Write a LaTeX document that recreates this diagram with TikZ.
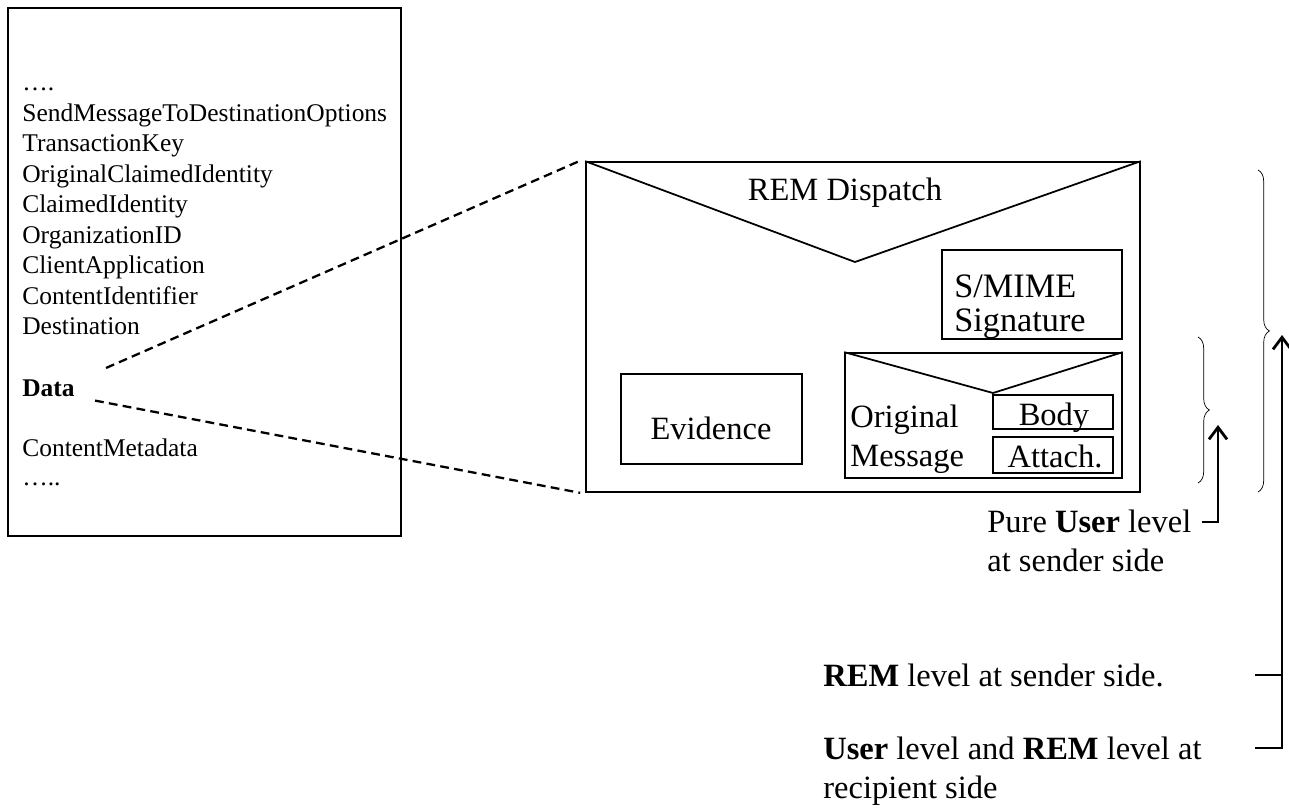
\documentclass[tikz,border=0pt]{standalone}
\usepackage{fontspec}
\setmainfont{Liberation Serif}
\usetikzlibrary{positioning, arrows.meta, decorations.pathreplacing, calc}
\tikzset{
  box/.style={
    draw,
    rectangle,
    line width=1pt,
    inner sep=0pt
  },
  field/.style={
    anchor=base west,
    inner sep=0pt,
    font=\fontsize{14.5}{17}\selectfont
  },
  big/.style={
    inner sep=0pt,
    font=\fontsize{18.5}{22}\selectfont
  },
  level/.style={
    line width=1.6pt,
    -{Straight Barb[length=2.4mm, width=3.6mm]}
  },
  link/.style={
    line width=1.3pt,
    dash pattern=on 5pt off 3pt
  }
}

\begin{document}
\begin{tikzpicture}[x=0.02cm, y=-0.02cm]
  \useasboundingbox (0,0) rectangle (1289,810);

  % Parametry wywolania
  \node[box, minimum width=7.86cm, minimum height=10.56cm] (params) at (204.5,272) {};
  \node[field] (f0) at (22,91) {….};
  \node[field] (f1) at (22,121.5) {SendMessageToDestinationOptions};
  \node[field] (f2) at (22,152) {TransactionKey};
  \node[field] (f3) at (22,182.5) {OriginalClaimedIdentity};
  \node[field] (f4) at (22,213) {ClaimedIdentity};
  \node[field] (f5) at (22,243.5) {OrganizationID};
  \node[field] (f6) at (22,274) {ClientApplication};
  \node[field] (f7) at (22,304.5) {ContentIdentifier};
  \node[field] (f8) at (22,335) {Destination};
  \node[field] (data) at (22,397) {\textbf{Data}};
  \node[field] (f9) at (22,457) {ContentMetadata};
  \node[field] (f10) at (22,486) {…..};

  % Koperta REM
  \node[box, minimum width=11.08cm, minimum height=6.6cm] (dispatch) at (863,327) {};
  \coordinate (flap) at (855,262);
  \draw[line width=1pt] (dispatch.north west) -- (flap) -- (dispatch.north east);
  \node[big] (title) at (845,193) {REM Dispatch};

  \node[box, minimum width=3.6cm, minimum height=1.78cm] (smime) at (1032,294.5) {};
  \node[big, font=\fontsize{19.5}{19.8}\selectfont, align=left, anchor=north west] (smimetxt) at (954,274) {S/MIME\\Signature};

  \node[box, minimum width=3.62cm, minimum height=1.8cm] (evidence) at (711.5,419) {};
  \node[big] (evidencetxt) at (711,428) {Evidence};

  % Wiadomosc oryginalna
  \node[box, minimum width=5.54cm, minimum height=2.5cm] (orig) at (983.5,415.5) {};
  \coordinate (origflap) at (993,393);
  \draw[line width=1pt] (orig.north west) -- (origflap) -- (orig.north east);
  \node[big, align=left, anchor=north west] (origtxt) at (850,405) {Original\\Message};
  \node[box, minimum width=2.4cm, minimum height=0.68cm] (body) at (1053,412) {};
  \node[big, anchor=base] (bodytxt) at (1054,426) {Body};
  \node[box, minimum width=2.4cm, minimum height=0.72cm] (attach) at (1053,455) {};
  \node[big, anchor=base] (attachtxt) at (1055,468) {Attach.};

  % Powiazanie z polem Data
  \draw[link] ([xshift=0.62cm, yshift=0.24cm]data.north east) -- ([xshift=-0.12cm]dispatch.north west);
  \draw[link] ([xshift=0.4cm, yshift=-0.06cm]data.south east) -- ([xshift=-0.1cm]dispatch.south west);

  % Klamry
  \coordinate (bigtop) at (1258,170);
  \coordinate (bigbot) at (1258,492);
  \coordinate (usertop) at (1198,337);
  \coordinate (userbot) at (1198,483);
  \draw[decorate, decoration={brace, amplitude=6.5pt}] (bigtop) -- (bigbot);
  \draw[decorate, decoration={brace, amplitude=6.5pt}] (usertop) -- (userbot);

  % Poziomy
  \node[big, align=left, anchor=north west] (pure) at (987,510) {Pure \textbf{User} level\\at sender side};
  \coordinate (usertip) at (1218,425);
  \coordinate (puretick) at ($(pure.north east)+(10,12)$);
  \draw[level] (puretick) -| (usertip);

  \node[big, anchor=north west] (remlvl) at (823,664) {\textbf{REM} level at sender side.};
  \node[big, align=left, anchor=north west] (bothlvl) at (823,737) {\textbf{User} level and \textbf{REM} level at\\recipient side};
  \coordinate (remtip) at (1282,335);
  \coordinate (t1) at (1255,675);
  \coordinate (t2) at (1255,748);
  \draw[level] (t2) -| (remtip);
  \draw[line width=1.2pt] (t1) -- (t1 -| remtip);
\end{tikzpicture}
\end{document}
